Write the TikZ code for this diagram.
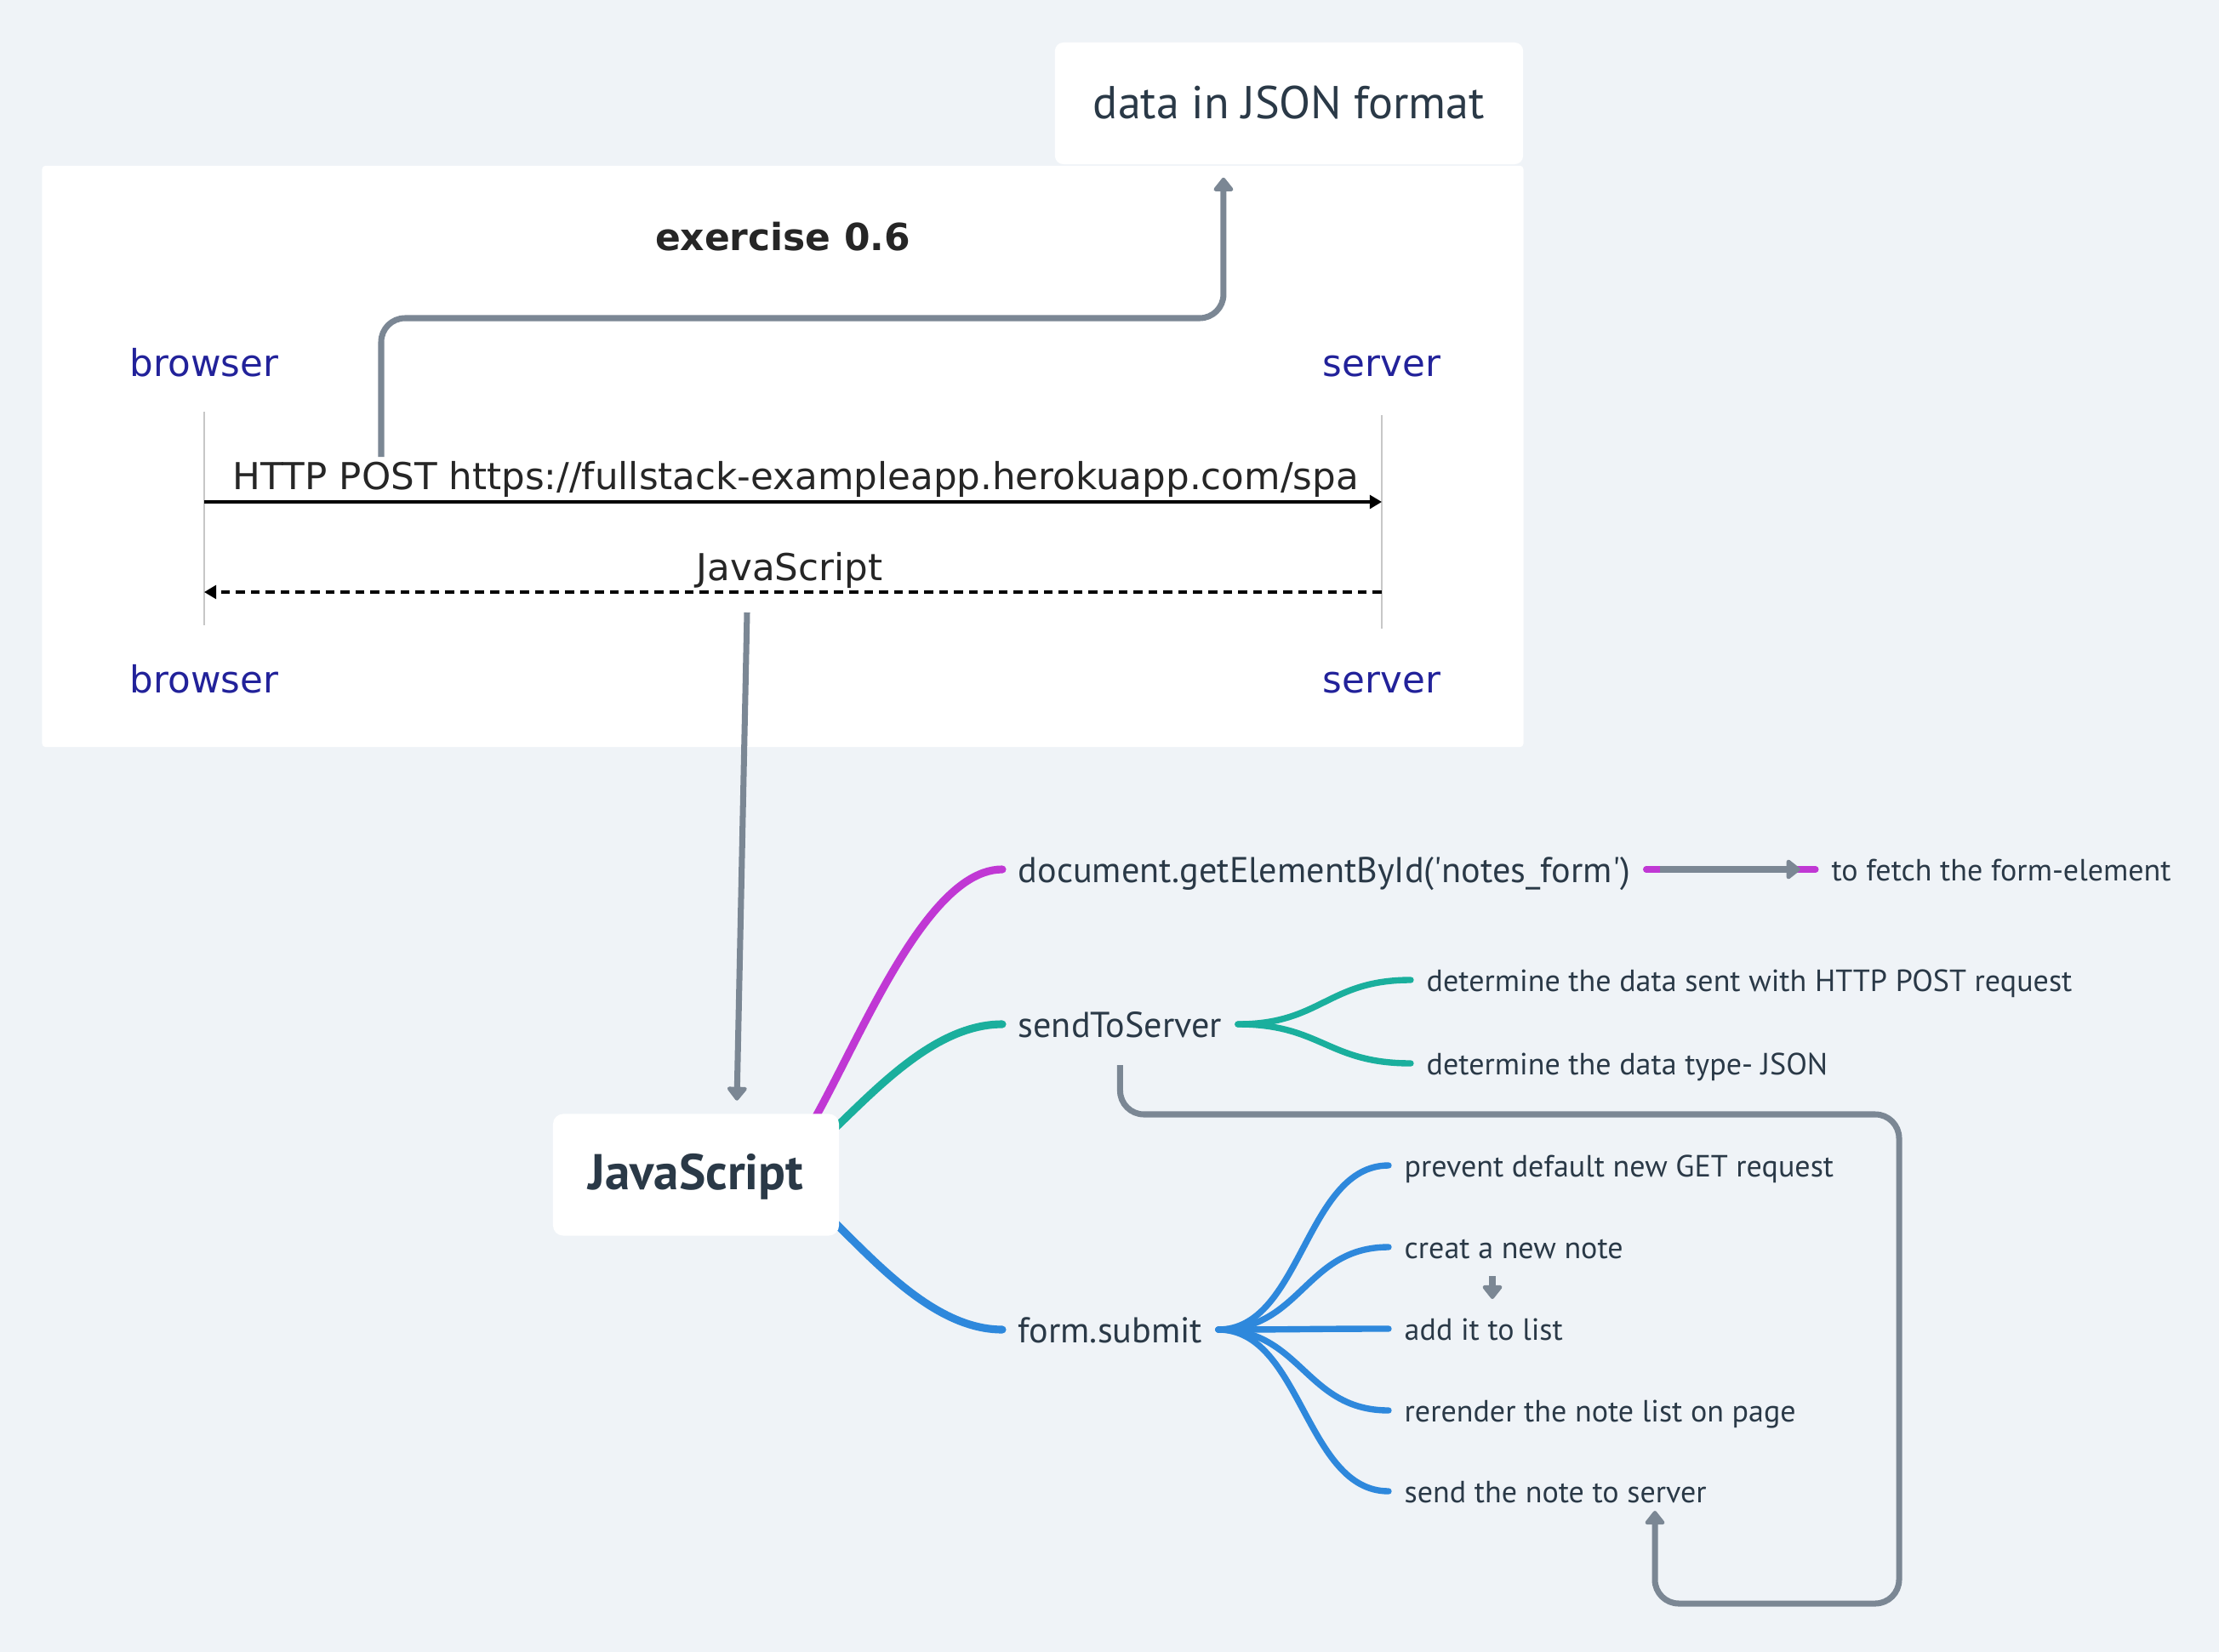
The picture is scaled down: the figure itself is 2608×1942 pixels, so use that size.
\documentclass[tikz,border=0pt]{standalone}
\usepackage{fontspec}
\setmainfont{PT Sans}
\newfontfamily\umlfont{DejaVu Sans}
\usepackage{tikz}
\usetikzlibrary{calc,positioning,shapes}
\usetikzlibrary{arrows.meta}
\tikzset{>={Triangle[length=5pt,width=7.5pt,round]}}
\definecolor{canvas}{HTML}{EFF3F7}
\definecolor{ink}{HTML}{2A3947}
\definecolor{slate}{HTML}{7B8794}
\definecolor{mag}{HTML}{C038D4}
\definecolor{tl}{HTML}{1AAF9D}
\definecolor{bl}{HTML}{2E88DC}
\definecolor{partyblue}{HTML}{22229A}

\begin{document}
\begin{tikzpicture}[x=0.01cm,y=-0.01cm]
          \tikzstyle{card} = [fill=white, rounded corners=0.1cm, inner sep=0pt]
          \tikzstyle{party} = [text=partyblue, anchor=base, font=\umlfont\fontsize{12.4}{14}\selectfont]
          \tikzstyle{msgtxt} = [text=black!85, inner sep=0pt, font=\umlfont\fontsize{12.4}{14}\selectfont]
          \tikzstyle{lifeline} = [draw=black!22, line width=0.6pt]
          \tikzstyle{call} = [line width=0.9pt, -{Triangle[length=4pt,width=4.5pt]}]
          \tikzstyle{knode} = [text=ink, inner xsep=0.18cm, text height=1em, text depth=0.1em, font=\fontsize{12}{14}\selectfont]
          \tikzstyle{lnode} = [text=ink, inner xsep=0.18cm, text height=0.85em, text depth=0.1em, font=\fontsize{10.25}{12}\selectfont]
          \tikzstyle{trunk} = [line width=2.6pt, line cap=round, to path={.. controls +(60,0) and +(-120,0) .. (\tikztotarget)}]
          \tikzstyle{fork} = [line width=2.1pt, line cap=round, to path={.. controls +(98,0) and +(-98,0) .. (\tikztotarget)}]
          \tikzstyle{link} = [draw=slate, line width=2pt, rounded corners=0.28cm, ->]

          \fill[canvas] (0,0) rectangle (2608,1942);

          % sequence diagram picture
          \node[card, rounded corners=0.04cm, minimum width=17.4cm, minimum height=6.83cm] (seqimg) at (920,536.5) {};
          \node[msgtxt, font=\umlfont\bfseries\fontsize{12.5}{14}\selectfont] (title) at (920,278) {exercise 0.6};
          \node[party] (btop) at (240,442) {browser};
          \node[party] (stop) at (1624,442) {server};
          \node[party] (bbot) at (240,814) {browser};
          \node[party] (sbot) at (1624,814) {server};
          \draw[lifeline, shorten <=0.58cm, shorten >=0.63cm] (btop.center) -- (bbot.center);
          \draw[lifeline, shorten <=0.58cm, shorten >=0.63cm] (stop.center) -- (sbot.center);
          \coordinate (postrow) at (0,590);
          \coordinate (backrow) at (0,696);
          \node[msgtxt] (post) at (935,563) {HTTP POST https://fullstack-exampleapp.herokuapp.com/spa};
          \node[msgtxt] (jsreply) at (928,670) {JavaScript};
          \draw[call] (btop.center |- postrow) -- (stop.center |- postrow);
          \draw[call, dash pattern=on 3pt off 2pt] (stop.center |- backrow) -- (btop.center |- backrow);

          \node[card, minimum width=5.5cm, minimum height=1.43cm, text=ink, text height=1.15em, text depth=0.1em, font=\fontsize{15.4}{17}\selectfont] (json) at (1515,121.5) {data in JSON format};

          % mind map
          \node[knode, anchor=west] (getel) at (1178,1022) {document.getElementById(\textquotesingle notes\_form\textquotesingle)};
          \node[knode, anchor=west] (send) at (1178,1204) {sendToServer};
          \node[knode, anchor=west] (form) at (1178,1563) {form.submit};
          \node[lnode, right=1.99cm of getel] (fetch) {to fetch the form-element};
          \node[lnode, anchor=west] (detdata) at (1658,1152) {determine the data sent with HTTP POST request};
          \node[lnode, anchor=west] (dettype) at (1658,1250) {determine the data type- JSON};
          \node[lnode, anchor=west] (prevent) at (1632,1370) {prevent default new GET request};
          \node[lnode, anchor=west] (creat) at (1632,1466) {creat a new note};
          \node[lnode, anchor=west] (addlist) at (1632,1562) {add it to list};
          \node[lnode, anchor=west] (rerender) at (1632,1658) {rerender the note list on page};
          \node[lnode, anchor=west] (sendnote) at (1632,1753) {send the note to server};

          \coordinate (hub) at (900,1381);
          \draw[trunk, mag] (hub) to (getel.west);
          \draw[trunk, tl] (hub) to (send.west);
          \draw[trunk, bl] (hub) to (form.west);
          \draw[mag, line width=2.1pt, line cap=round] (getel.east) -- (fetch.west);
          \draw[link] ([xshift=0.16cm]getel.east) -- ([xshift=-0.18cm]fetch.west);
          \foreach \kid in {detdata,dettype}
            \draw[fork, tl] (send.east) to (\kid.west);
          \foreach \kid in {prevent,creat,addlist,rerender,sendnote}
            \draw[fork, bl] (form.east) to (\kid.west);

          \node[card, rounded corners=0.12cm, minimum width=3.36cm, minimum height=1.43cm, text=ink, text height=1.08em, text depth=0.1em, font=\bfseries\fontsize{16.8}{19}\selectfont] (js) at (818,1381) {JavaScript};

          % grey links
          \coordinate (postmark) at (448,537);
          \coordinate (jsontip) at ([xshift=-0.77cm,yshift=-0.15cm]json.south);
          \draw[link] (postmark) -- ++(0,-163) -| (jsontip);
          \coordinate (jsmark) at (878,720);
          \coordinate (jstip) at ([xshift=0.48cm,yshift=0.15cm]js.north);
          \draw[link] (jsmark) -- (jstip);
          \coordinate (loopstart) at ([yshift=-0.48cm]send.center);
          \coordinate (backtip) at (1945,1776);
          \draw[link] (loopstart) |- (2232,1310) -- (2232,1885) -| (backtip);
          \coordinate (cn1) at (1754,1500);
          \coordinate (cn2) at (1754,1527);
          \draw[link] (cn1) -- (cn2);
\end{tikzpicture}
\end{document}
